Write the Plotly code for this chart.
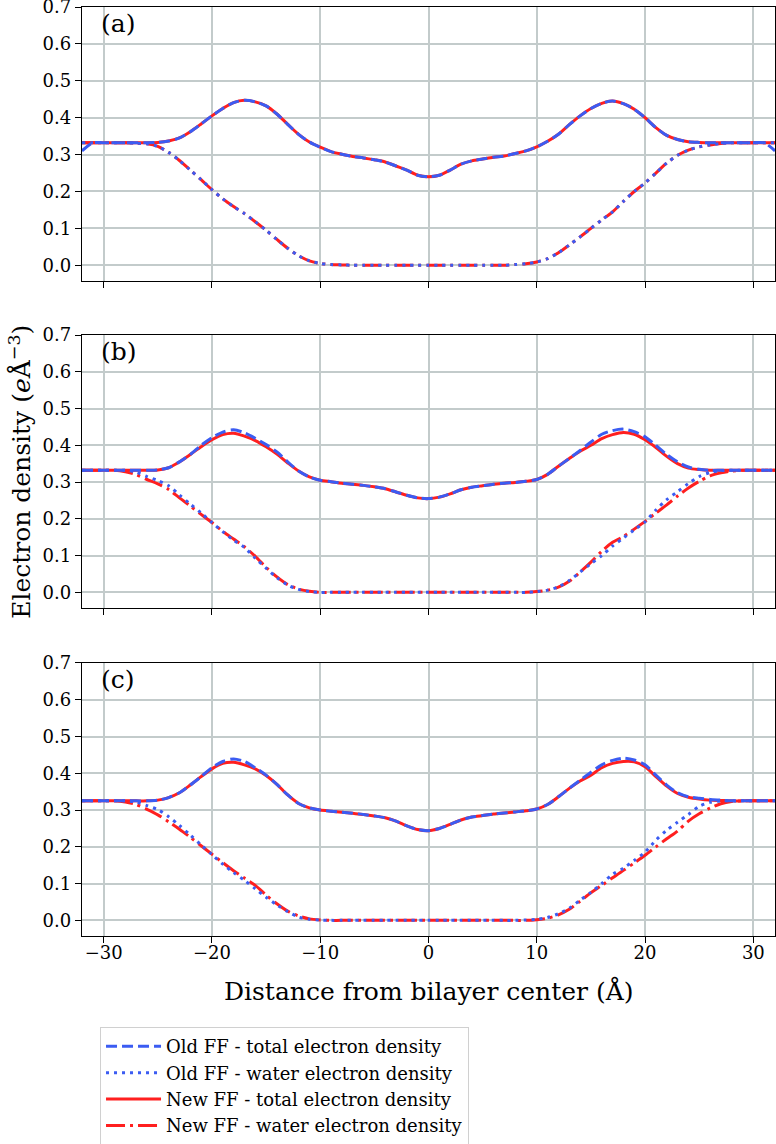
import plotly.graph_objects as go
from plotly.subplots import make_subplots

# distance from bilayer centre (Angstrom)
dist = list(range(-32, 33))

# panel (a)
a_old_total = [0.31, 0.332, 0.332, 0.332, 0.332, 0.332, 0.332, 0.333, 0.337, 0.345, 0.362, 0.383, 0.405,
               0.425, 0.441, 0.447, 0.443, 0.432, 0.41, 0.382, 0.355, 0.334, 0.32, 0.308, 0.301, 0.295,
               0.291, 0.286, 0.28, 0.269, 0.258, 0.244, 0.24, 0.244, 0.258, 0.274, 0.283, 0.288, 0.293,
               0.296, 0.303, 0.31, 0.321, 0.336, 0.355, 0.381, 0.405, 0.425, 0.439, 0.445, 0.438, 0.423,
               0.4, 0.373, 0.352, 0.341, 0.335, 0.333, 0.332, 0.332, 0.332, 0.332, 0.332, 0.332, 0.31]
a_old_water = [0.332, 0.332, 0.332, 0.332, 0.332, 0.331, 0.329, 0.322, 0.306, 0.284, 0.258, 0.232, 0.205,
               0.18, 0.159, 0.14, 0.118, 0.095, 0.07, 0.046, 0.026, 0.012, 0.005, 0.002, 0.001, 0.0,
               0.0, 0.0, 0.0, 0.0, 0.0, 0.0, 0.0, 0.0, 0.0, 0.0, 0.0, 0.0, 0.0, 0.0, 0.002, 0.004,
               0.009, 0.018, 0.034, 0.055, 0.077, 0.1, 0.123, 0.145, 0.173, 0.2, 0.223, 0.25, 0.277,
               0.298, 0.312, 0.321, 0.326, 0.33, 0.332, 0.332, 0.332, 0.332, 0.332]
a_new_total = [0.332, 0.332, 0.332, 0.332, 0.332, 0.332, 0.332, 0.333, 0.337, 0.345, 0.362, 0.383, 0.405,
               0.425, 0.441, 0.447, 0.443, 0.432, 0.41, 0.382, 0.355, 0.334, 0.32, 0.308, 0.301, 0.295,
               0.291, 0.286, 0.28, 0.269, 0.258, 0.244, 0.24, 0.244, 0.258, 0.274, 0.283, 0.288, 0.293,
               0.296, 0.303, 0.31, 0.321, 0.336, 0.355, 0.381, 0.405, 0.425, 0.439, 0.445, 0.438, 0.423,
               0.4, 0.373, 0.352, 0.341, 0.335, 0.333, 0.332, 0.332, 0.332, 0.332, 0.332, 0.332, 0.332]
a_new_water = [0.332, 0.332, 0.332, 0.332, 0.332, 0.331, 0.329, 0.322, 0.306, 0.284, 0.258, 0.232, 0.205,
               0.18, 0.159, 0.14, 0.118, 0.095, 0.07, 0.046, 0.026, 0.012, 0.005, 0.002, 0.001, 0.0,
               0.0, 0.0, 0.0, 0.0, 0.0, 0.0, 0.0, 0.0, 0.0, 0.0, 0.0, 0.0, 0.0, 0.0, 0.002, 0.004,
               0.009, 0.018, 0.034, 0.055, 0.077, 0.1, 0.123, 0.145, 0.173, 0.2, 0.223, 0.25, 0.277,
               0.298, 0.312, 0.321, 0.326, 0.33, 0.332, 0.332, 0.332, 0.332, 0.332]

# panel (b)
b_old_total = [0.332, 0.332, 0.332, 0.332, 0.332, 0.332, 0.332, 0.333, 0.339, 0.355, 0.375, 0.4, 0.421,
               0.436, 0.442, 0.434, 0.419, 0.402, 0.382, 0.355, 0.33, 0.314, 0.305, 0.301, 0.297, 0.294,
               0.291, 0.287, 0.282, 0.273, 0.264, 0.257, 0.255, 0.259, 0.268, 0.279, 0.286, 0.29, 0.294,
               0.297, 0.299, 0.302, 0.307, 0.321, 0.343, 0.364, 0.386, 0.409, 0.43, 0.44, 0.444, 0.437,
               0.423, 0.4, 0.375, 0.355, 0.341, 0.335, 0.332, 0.332, 0.332, 0.332, 0.332, 0.332, 0.332]
b_old_water = [0.332, 0.332, 0.332, 0.332, 0.332, 0.327, 0.315, 0.304, 0.29, 0.265, 0.24, 0.216, 0.19,
               0.165, 0.142, 0.122, 0.093, 0.066, 0.04, 0.02, 0.008, 0.002, 0.0, 0.0, 0.0, 0.0,
               0.0, 0.0, 0.0, 0.0, 0.0, 0.0, 0.0, 0.0, 0.0, 0.0, 0.0, 0.0, 0.0, 0.0, 0.0, 0.0,
               0.002, 0.006, 0.015, 0.032, 0.055, 0.078, 0.1, 0.126, 0.148, 0.17, 0.192, 0.224, 0.252,
               0.274, 0.296, 0.315, 0.326, 0.331, 0.332, 0.332, 0.332, 0.332, 0.332]
b_new_total = [0.332, 0.332, 0.332, 0.332, 0.332, 0.332, 0.332, 0.333, 0.339, 0.355, 0.375, 0.396, 0.415,
               0.429, 0.433, 0.425, 0.413, 0.396, 0.376, 0.352, 0.33, 0.314, 0.305, 0.301, 0.297, 0.294,
               0.291, 0.287, 0.282, 0.273, 0.264, 0.257, 0.255, 0.259, 0.268, 0.279, 0.286, 0.29, 0.294,
               0.297, 0.299, 0.302, 0.307, 0.321, 0.343, 0.364, 0.384, 0.4, 0.418, 0.429, 0.435, 0.43,
               0.415, 0.394, 0.37, 0.35, 0.338, 0.334, 0.332, 0.332, 0.332, 0.332, 0.332, 0.332, 0.332]
b_new_water = [0.332, 0.332, 0.332, 0.332, 0.328, 0.32, 0.307, 0.295, 0.28, 0.257, 0.235, 0.212, 0.19,
               0.166, 0.145, 0.124, 0.098, 0.068, 0.042, 0.021, 0.009, 0.003, 0.0, 0.0, 0.0, 0.0,
               0.0, 0.0, 0.0, 0.0, 0.0, 0.0, 0.0, 0.0, 0.0, 0.0, 0.0, 0.0, 0.0, 0.0, 0.0, 0.0,
               0.002, 0.006, 0.014, 0.03, 0.055, 0.082, 0.112, 0.136, 0.152, 0.172, 0.193, 0.216, 0.238,
               0.262, 0.284, 0.302, 0.317, 0.325, 0.33, 0.332, 0.332, 0.332, 0.332]

# panel (c)
c_old_total = [0.325, 0.325, 0.325, 0.325, 0.325, 0.325, 0.325, 0.327, 0.334, 0.347, 0.368, 0.391, 0.415,
               0.432, 0.439, 0.432, 0.415, 0.395, 0.37, 0.341, 0.318, 0.306, 0.3, 0.297, 0.294, 0.291,
               0.288, 0.284, 0.279, 0.27, 0.257, 0.247, 0.244, 0.25, 0.261, 0.273, 0.281, 0.285, 0.289,
               0.292, 0.295, 0.298, 0.303, 0.315, 0.336, 0.359, 0.381, 0.403, 0.423, 0.435, 0.441, 0.436,
               0.423, 0.395, 0.368, 0.347, 0.336, 0.332, 0.329, 0.327, 0.325, 0.325, 0.325, 0.325, 0.325]
c_old_water = [0.325, 0.325, 0.325, 0.325, 0.325, 0.322, 0.312, 0.301, 0.282, 0.258, 0.232, 0.205, 0.179,
               0.153, 0.13, 0.109, 0.086, 0.063, 0.042, 0.024, 0.009, 0.003, 0.001, 0.0, 0.0, 0.0,
               0.0, 0.0, 0.0, 0.0, 0.0, 0.0, 0.0, 0.0, 0.0, 0.0, 0.0, 0.0, 0.0, 0.0, 0.0, 0.001,
               0.003, 0.008, 0.018, 0.033, 0.055, 0.076, 0.1, 0.125, 0.142, 0.163, 0.186, 0.218, 0.245,
               0.267, 0.288, 0.31, 0.321, 0.325, 0.325, 0.325, 0.325, 0.325, 0.325]
c_new_total = [0.325, 0.325, 0.325, 0.325, 0.325, 0.325, 0.325, 0.327, 0.334, 0.347, 0.368, 0.391, 0.412,
               0.427, 0.43, 0.423, 0.412, 0.394, 0.37, 0.341, 0.318, 0.306, 0.3, 0.297, 0.294, 0.291,
               0.288, 0.284, 0.279, 0.27, 0.257, 0.247, 0.244, 0.25, 0.261, 0.273, 0.281, 0.285, 0.289,
               0.292, 0.295, 0.298, 0.303, 0.315, 0.336, 0.359, 0.379, 0.395, 0.415, 0.427, 0.432, 0.431,
               0.418, 0.391, 0.365, 0.345, 0.335, 0.33, 0.327, 0.326, 0.325, 0.325, 0.325, 0.325, 0.325]
c_new_water = [0.325, 0.325, 0.325, 0.325, 0.322, 0.315, 0.302, 0.287, 0.268, 0.248, 0.226, 0.203, 0.18,
               0.157, 0.135, 0.115, 0.095, 0.069, 0.045, 0.025, 0.012, 0.004, 0.001, 0.0, 0.0, 0.0,
               0.0, 0.0, 0.0, 0.0, 0.0, 0.0, 0.0, 0.0, 0.0, 0.0, 0.0, 0.0, 0.0, 0.0, 0.0, 0.0,
               0.002, 0.006, 0.015, 0.03, 0.052, 0.075, 0.095, 0.116, 0.136, 0.156, 0.177, 0.2, 0.222,
               0.243, 0.27, 0.29, 0.305, 0.317, 0.323, 0.325, 0.325, 0.325, 0.325]

panel_labels = ['(a)', '(b)', '(c)']
panel_data = [
    (a_old_total, a_old_water, a_new_total, a_new_water),
    (b_old_total, b_old_water, b_new_total, b_new_water),
    (c_old_total, c_old_water, c_new_total, c_new_water),
]
names = ['Old FF - total electron density', 'Old FF - water electron density',
         'New FF - total electron density', 'New FF - water electron density']

BLUE = '#3b5cf2'
RED = '#ff1f1f'
styles = [(BLUE, '11px,5px'), (BLUE, '3px,5px'), (RED, 'solid'), (RED, '19px,5px,3px,5px')]

FONT = 'DejaVu Serif'
GRID = '#c3cbcb'

fig = make_subplots(rows=3, cols=1, shared_xaxes=True)

for r, series in enumerate(panel_data, start=1):
    # red (new FF) first so the blue old-FF dashes sit on top, as in the original
    for k in [2, 3, 0, 1]:
        color, dash = styles[k]
        fig.add_trace(go.Scatter(
            x=dist, y=series[k], mode='lines', name=names[k], legendgroup=names[k],
            legendrank=k + 1, showlegend=(r == 1),
            line=dict(color=color, width=3, dash=dash, shape='spline', smoothing=0.8)
        ), row=r, col=1)
    sfx = '' if r == 1 else str(r)
    fig.add_annotation(x=-30.4, y=0.699, xref='x' + sfx, yref='y' + sfx, text=panel_labels[r - 1],
                       showarrow=False, xanchor='left', yanchor='top',
                       font=dict(family=FONT, size=25, color='black'))

fig.update_xaxes(range=[-32, 32], tickvals=[-30, -20, -10, 0, 10, 20, 30],
                 ticks='outside', ticklen=6, tickwidth=1.2, tickcolor='black',
                 showgrid=True, gridcolor=GRID, gridwidth=1.5, zeroline=False,
                 showline=True, mirror=True, linecolor='black', linewidth=1.3,
                 automargin=False, ticklabelstandoff=-6, ticklabeloverflow='allow',
                 tickfont=dict(family=FONT, size=18, color='black'))
fig.update_yaxes(range=[-0.0425, 0.7], tickvals=[0, 0.1, 0.2, 0.3, 0.4, 0.5, 0.6, 0.7],
                 tickformat='.1f', ticks='outside', ticklen=6, tickwidth=1.2, tickcolor='black',
                 showgrid=True, gridcolor=GRID, gridwidth=1.5, zeroline=False,
                 showline=True, mirror=True, linecolor='black', linewidth=1.3,
                 automargin=False, ticklabeloverflow='allow',
                 tickfont=dict(family=FONT, size=18, color='black'))

fig.update_layout(
    width=776, height=1144,
    margin=dict(l=82, r=1, t=7, b=208, autoexpand=False),
    plot_bgcolor='white', paper_bgcolor='white',
    yaxis=dict(domain=[0.7051, 1.0]),
    yaxis2=dict(domain=[0.3531, 0.6469]),
    yaxis3=dict(domain=[0.0, 0.2939]),
    legend=dict(x=0.026, y=-0.098, xanchor='left', yanchor='top',
                bgcolor='white', bordercolor='#d0d0d0', borderwidth=1,
                font=dict(family=FONT, size=18, color='black'),
                tracegroupgap=0, itemwidth=55),
)

fig.add_annotation(x=0.5, y=-0.059, xref='paper', yref='paper', showarrow=False,
                   text='Distance from bilayer center (Å)', xanchor='center', yanchor='middle',
                   font=dict(family=FONT, size=25, color='black'))
fig.add_annotation(x=-0.089, y=0.5, xref='paper', yref='paper', showarrow=False, textangle=-90,
                   text='Electron density (<i>e</i>Å<sup>−3</sup>)', xanchor='center', yanchor='middle',
                   font=dict(family=FONT, size=25, color='black'))

fig.write_html("out.html", config={'displayModeBar': False},
               post_script="document.body.style.margin = '0';")
